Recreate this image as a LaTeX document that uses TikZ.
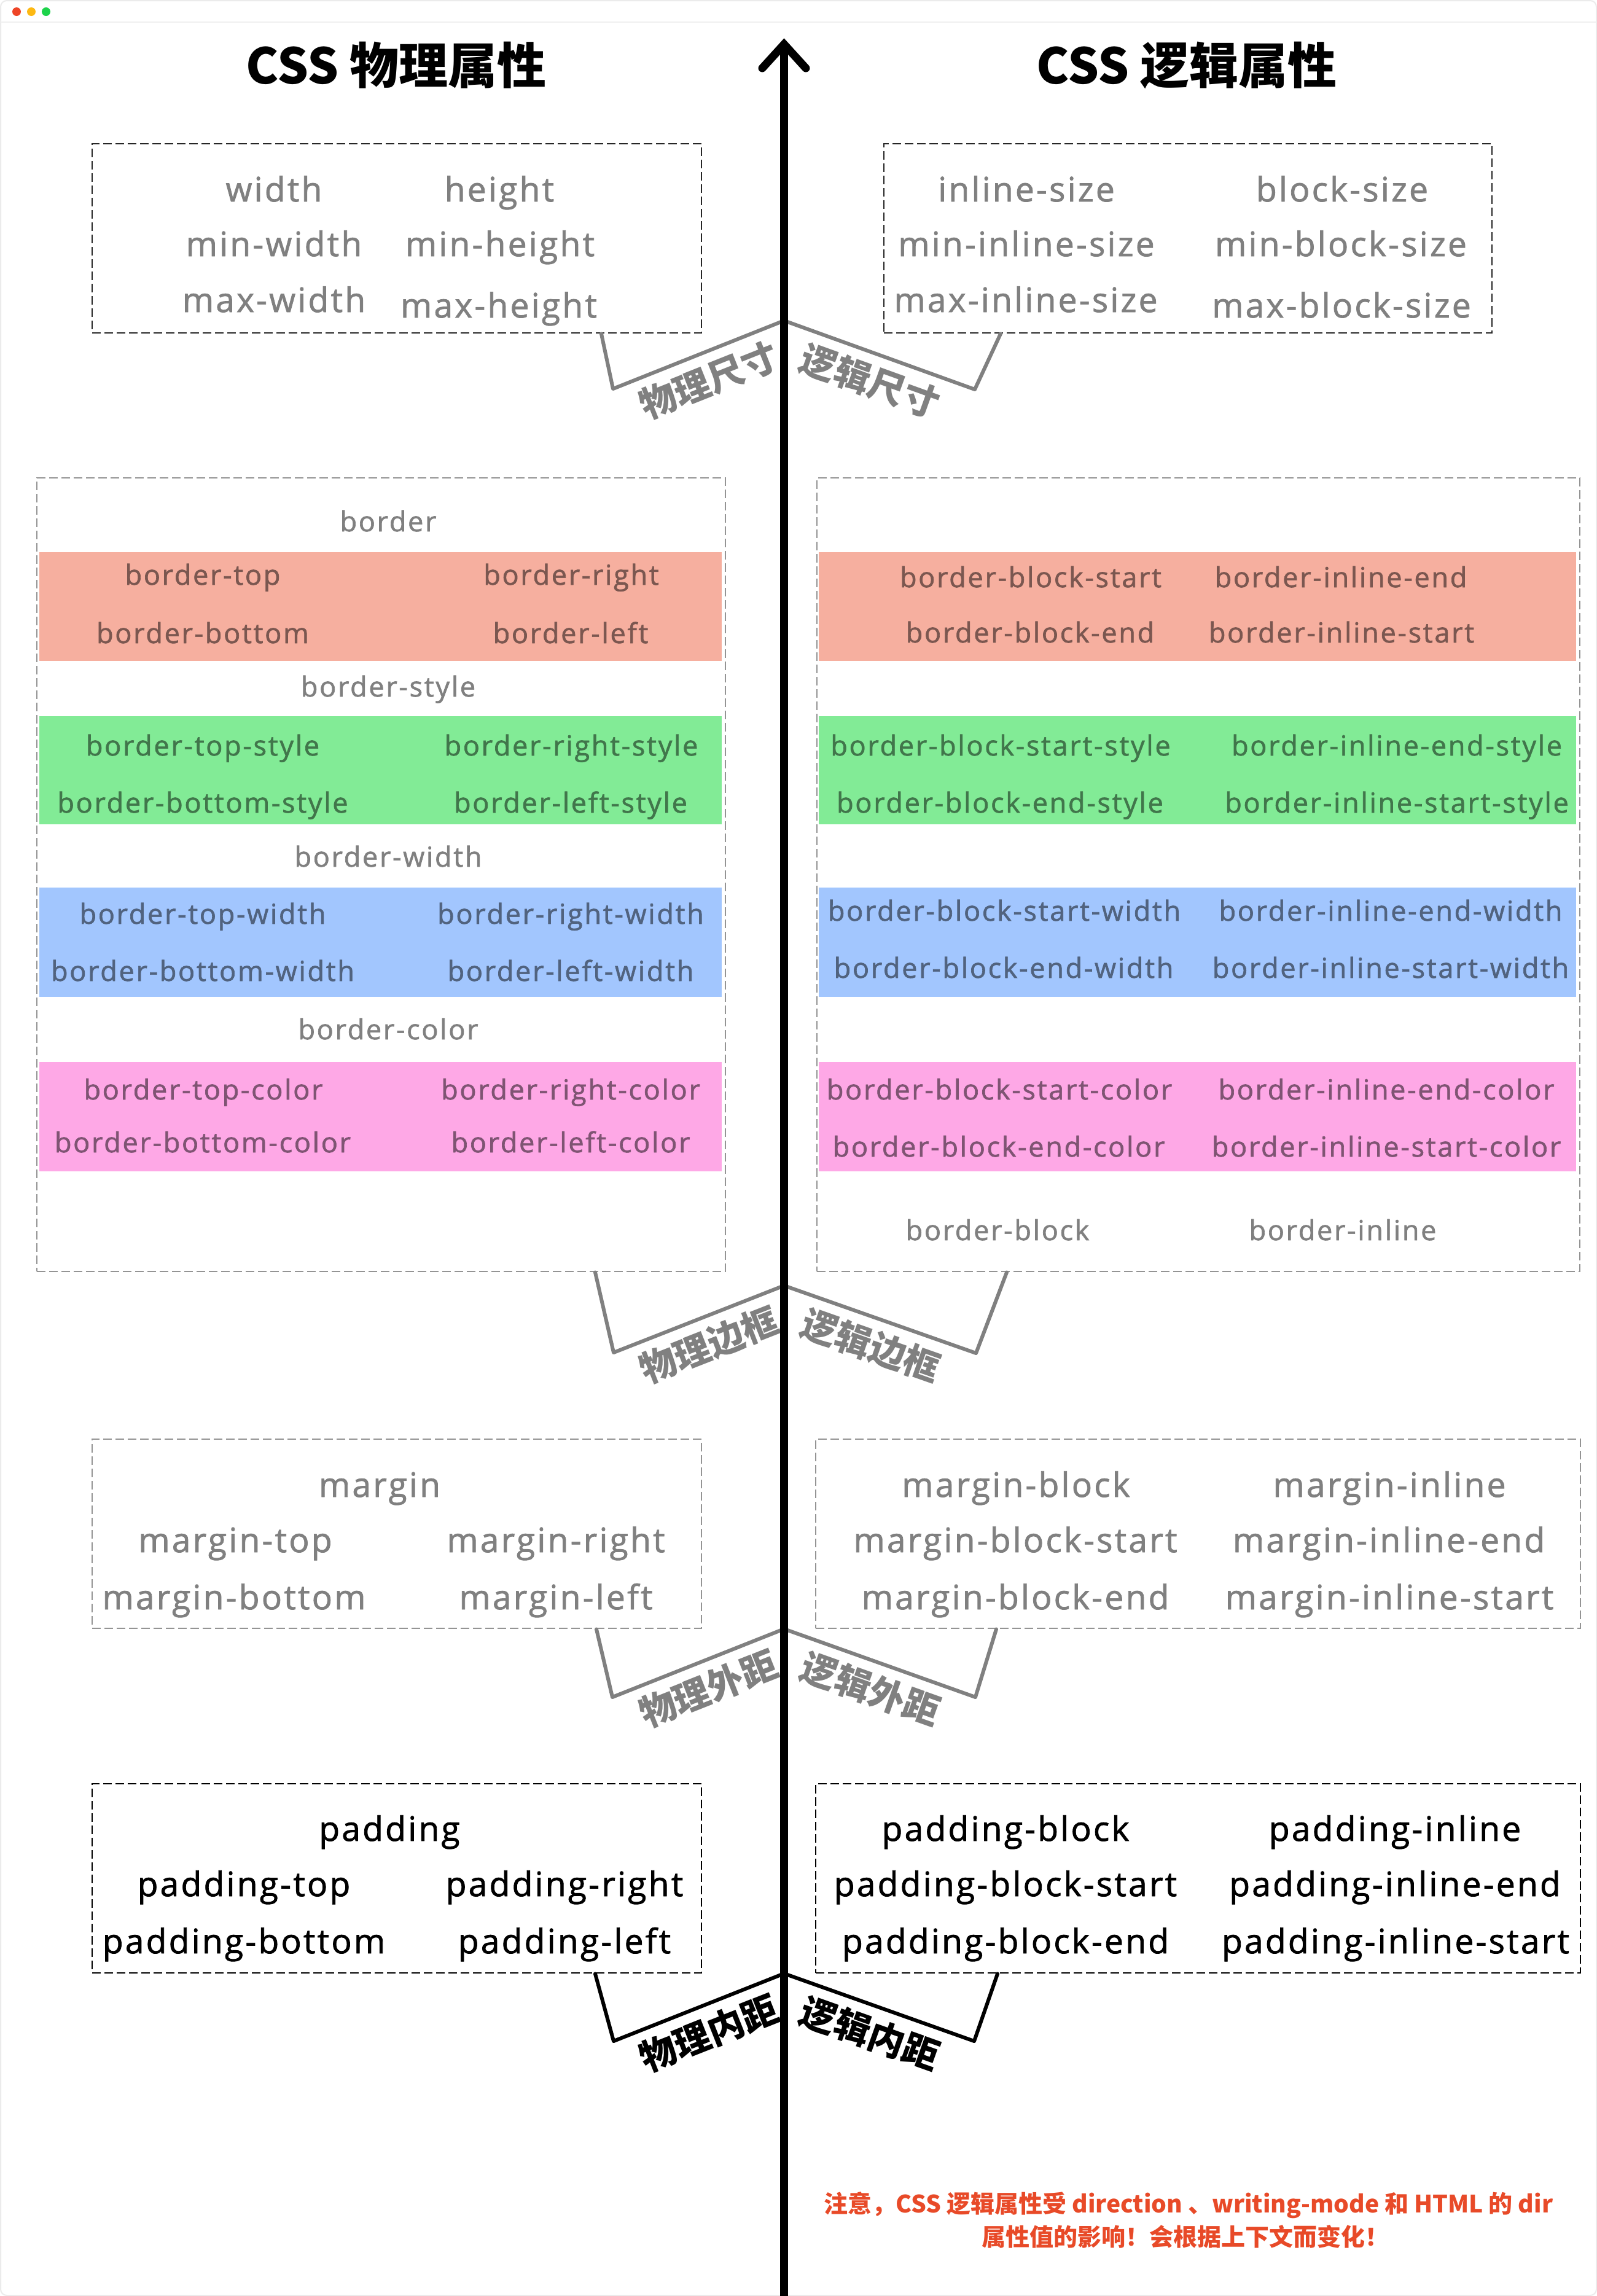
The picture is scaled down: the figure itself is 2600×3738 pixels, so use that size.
\documentclass[tikz,border=0pt]{standalone}
\usepackage{fontspec}
\newfontfamily\cjk{Noto Sans CJK SC}
\newfontfamily\lat{Open Sans}[LetterSpace=6, FakeBold=1.5]
\usetikzlibrary{calc}
\definecolor{salmon}{HTML}{F6AF9F}
\definecolor{mint}{HTML}{82EB96}
\definecolor{sky}{HTML}{A2C6FE}
\definecolor{rose}{HTML}{FEA8E6}
\definecolor{notered}{HTML}{E84A28}
\definecolor{dotred}{HTML}{EE4527}
\definecolor{dotyellow}{HTML}{FDB913}
\definecolor{dotgreen}{HTML}{1DD34B}
\colorlet{midgray}{black!50}
\colorlet{salmontext}{black!50!salmon}
\colorlet{minttext}{black!50!mint}
\colorlet{skytext}{black!50!sky}
\colorlet{rosetext}{black!50!rose}
\tikzset{
  dboxbase/.style={draw, line width=1.2pt, dash pattern=on 7pt off 3pt, inner sep=0pt, anchor=north west},
  sizebox/.style={dboxbase, draw=black!85},
  graybox/.style={dboxbase, draw=black!42},
  padbox/.style={dboxbase, draw=black},
  band/.style={inner sep=0pt, anchor=north west, draw=none},
  bigtxt/.style={inner sep=0pt, anchor=base, font=\lat\fontsize{27.5}{33}\selectfont, text=midgray},
  smalltxt/.style={inner sep=0pt, anchor=base, font=\lat\fontsize{22.5}{27}\selectfont, text=midgray},
  conn/.style={draw=midgray, line width=3pt, line join=round, line cap=round},
  lbl/.style={midway, sloped, below=7pt, inner sep=0pt, font=\cjk\bfseries\fontsize{29.5}{35}\selectfont, text=midgray},
  axisline/.style={draw=black, line width=6.5pt},
  titletxt/.style={inner sep=0pt, anchor=base, font=\cjk\bfseries\fontsize{40}{48}\selectfont},
  notetxt/.style={inner sep=0pt, anchor=base, text=notered, font=\cjk\bfseries\fontsize{19.5}{24}\selectfont},
}
\begin{document}
\begin{tikzpicture}[x=0.5pt,y=-0.5pt]
\useasboundingbox (0,0) rectangle (2600,3738);
% window frame
\fill[white] (0,0) rectangle (2600,3738);
\draw[draw=black!8, line width=1pt, rounded corners=5pt] (1,1) rectangle (2599,3737);
\draw[draw=black!6, line width=1pt] (1,36) -- (2599,36);
\fill[dotred] (27,19) circle[radius=7];
\fill[dotyellow] (51,19) circle[radius=7];
\fill[dotgreen] (75,19) circle[radius=7];

% titles
\node[titletxt] (titleL) at (645,136) {CSS 物理属性};
\node[titletxt] (titleR) at (1932,136) {CSS 逻辑属性};

% ---------- size boxes
\node[sizebox, minimum width=496pt, minimum height=154pt] (sL) at (149,233) {};
\node[sizebox, minimum width=495pt, minimum height=154pt] (sR) at (1438,233) {};
\node[bigtxt] (s1) at (446,328) {width};
\node[bigtxt] (s2) at (813,328) {height};
\node[bigtxt] (s3) at (446,417) {min-width};
\node[bigtxt] (s4) at (814,417) {min-height};
\node[bigtxt] (s5) at (446,508) {max-width};
\node[bigtxt] (s6) at (812,517) {max-height};
\node[bigtxt] (s7) at (1671,328) {inline-size};
\node[bigtxt] (s8) at (2185,328) {block-size};
\node[bigtxt] (s9) at (1671,417) {min-inline-size};
\node[bigtxt] (s10) at (2183,417) {min-block-size};
\node[bigtxt] (s11) at (1670,508) {max-inline-size};
\node[bigtxt] (s12) at (2184,517) {max-block-size};

% ---------- border boxes
\node[band, fill=salmon, minimum width=555.5pt, minimum height=88.5pt] (bandL1) at (64,899) {};
\node[band, fill=mint, minimum width=555.5pt, minimum height=88pt] (bandL2) at (64,1166) {};
\node[band, fill=sky, minimum width=555.5pt, minimum height=89pt] (bandL3) at (64,1445) {};
\node[band, fill=rose, minimum width=555.5pt, minimum height=89pt] (bandL4) at (64,1729) {};
\node[band, fill=salmon, minimum width=616.5pt, minimum height=88.5pt] (bandR1) at (1333,899) {};
\node[band, fill=mint, minimum width=616.5pt, minimum height=88pt] (bandR2) at (1333,1166) {};
\node[band, fill=sky, minimum width=616.5pt, minimum height=89pt] (bandR3) at (1333,1445) {};
\node[band, fill=rose, minimum width=616.5pt, minimum height=89pt] (bandR4) at (1333,1729) {};
\node[graybox, minimum width=560.5pt, minimum height=646pt] (bL) at (59,777) {};
\node[graybox, minimum width=621pt, minimum height=646pt] (bR) at (1329,777) {};

\node[smalltxt] (b1) at (632,865) {border};
\node[smalltxt, text=salmontext] (b2) at (330,952) {border-top};
\node[smalltxt, text=salmontext] (b3) at (930,952) {border-right};
\node[smalltxt, text=salmontext] (b4) at (330,1047) {border-bottom};
\node[smalltxt, text=salmontext] (b5) at (929,1047) {border-left};
\node[smalltxt] (b6) at (632,1134) {border-style};
\node[smalltxt, text=minttext] (b7) at (330,1230) {border-top-style};
\node[smalltxt, text=minttext] (b8) at (930,1230) {border-right-style};
\node[smalltxt, text=minttext] (b9) at (330,1323) {border-bottom-style};
\node[smalltxt, text=minttext] (b10) at (929,1323) {border-left-style};
\node[smalltxt] (b11) at (632,1411) {border-width};
\node[smalltxt, text=skytext] (b12) at (330,1504) {border-top-width};
\node[smalltxt, text=skytext] (b13) at (929,1504) {border-right-width};
\node[smalltxt, text=skytext] (b14) at (330,1597) {border-bottom-width};
\node[smalltxt, text=skytext] (b15) at (929,1597) {border-left-width};
\node[smalltxt] (b16) at (632,1692) {border-color};
\node[smalltxt, text=rosetext] (b17) at (331,1790) {border-top-color};
\node[smalltxt, text=rosetext] (b18) at (929,1790) {border-right-color};
\node[smalltxt, text=rosetext] (b19) at (330,1876) {border-bottom-color};
\node[smalltxt, text=rosetext] (b20) at (929,1876) {border-left-color};

\node[smalltxt, text=salmontext] (r1) at (1678,956) {border-block-start};
\node[smalltxt, text=salmontext] (r2) at (2183,956) {border-inline-end};
\node[smalltxt, text=salmontext] (r3) at (1677,1046) {border-block-end};
\node[smalltxt, text=salmontext] (r4) at (2184,1046) {border-inline-start};
\node[smalltxt, text=minttext] (r5) at (1629,1230) {border-block-start-style};
\node[smalltxt, text=minttext] (r6) at (2274,1230) {border-inline-end-style};
\node[smalltxt, text=minttext] (r7) at (1628,1323) {border-block-end-style};
\node[smalltxt, text=minttext] (r8) at (2274,1323) {border-inline-start-style};
\node[smalltxt, text=skytext] (r9) at (1635,1499) {border-block-start-width};
\node[smalltxt, text=skytext] (r10) at (2264,1499) {border-inline-end-width};
\node[smalltxt, text=skytext] (r11) at (1634,1592) {border-block-end-width};
\node[smalltxt, text=skytext] (r12) at (2264,1592) {border-inline-start-width};
\node[smalltxt, text=rosetext] (r13) at (1627,1790) {border-block-start-color};
\node[smalltxt, text=rosetext] (r14) at (2257,1790) {border-inline-end-color};
\node[smalltxt, text=rosetext] (r15) at (1626,1883) {border-block-end-color};
\node[smalltxt, text=rosetext] (r16) at (2257,1883) {border-inline-start-color};
\node[smalltxt] (r17) at (1624,2019) {border-block};
\node[smalltxt] (r18) at (2186,2019) {border-inline};

% ---------- margin boxes
\node[graybox, minimum width=496pt, minimum height=154pt] (mL) at (149,2342) {};
\node[graybox, minimum width=622.5pt, minimum height=154pt] (mR) at (1327,2342) {};
\node[bigtxt] (m1) at (618,2437) {margin};
\node[bigtxt] (m2) at (383,2527) {margin-top};
\node[bigtxt] (m3) at (905,2527) {margin-right};
\node[bigtxt] (m4) at (381,2620) {margin-bottom};
\node[bigtxt] (m5) at (905,2620) {margin-left};
\node[bigtxt] (m6) at (1654,2437) {margin-block};
\node[bigtxt] (m7) at (2262,2437) {margin-inline};
\node[bigtxt] (m8) at (1653,2527) {margin-block-start};
\node[bigtxt] (m9) at (2261,2527) {margin-inline-end};
\node[bigtxt] (m10) at (1653,2620) {margin-block-end};
\node[bigtxt] (m11) at (2262,2620) {margin-inline-start};

% ---------- padding boxes
\node[padbox, minimum width=496pt, minimum height=154pt] (pL) at (149,2903) {};
\node[padbox, minimum width=622.5pt, minimum height=154pt] (pR) at (1327,2903) {};
\node[bigtxt, text=black] (p1) at (634,2997) {padding};
\node[bigtxt, text=black] (p2) at (397,3087) {padding-top};
\node[bigtxt, text=black] (p3) at (919,3087) {padding-right};
\node[bigtxt, text=black] (p4) at (397,3180) {padding-bottom};
\node[bigtxt, text=black] (p5) at (919,3180) {padding-left};
\node[bigtxt, text=black] (p6) at (1637,2997) {padding-block};
\node[bigtxt, text=black] (p7) at (2271,2997) {padding-inline};
\node[bigtxt, text=black] (p8) at (1637,3087) {padding-block-start};
\node[bigtxt, text=black] (p9) at (2271,3087) {padding-inline-end};
\node[bigtxt, text=black] (p10) at (1637,3180) {padding-block-end};
\node[bigtxt, text=black] (p11) at (2272,3180) {padding-inline-start};

% ---------- connectors
\coordinate (sAx) at (1276.5,522);
\coordinate (sLc) at (998,633);
\coordinate (sRc) at (1587,634);
\draw[conn] ($(sL.south west)+(830,0)$) -- (sLc) -- node[lbl]{物理尺寸} (sAx);
\draw[conn] (sAx) -- node[lbl]{逻辑尺寸} (sRc) -- ($(sR.south west)+(191,0)$);

\coordinate (bAx) at (1276.5,2093);
\coordinate (bLc) at (999,2202);
\coordinate (bRc) at (1589,2203);
\draw[conn] ($(bL.south west)+(910,0)$) -- (bLc) -- node[lbl]{物理边框} (bAx);
\draw[conn] (bAx) -- node[lbl]{逻辑边框} (bRc) -- ($(bR.south west)+(310,0)$);

\coordinate (mAx) at (1276.5,2652);
\coordinate (mLc) at (997,2763);
\coordinate (mRc) at (1588,2763);
\draw[conn] ($(mL.south west)+(822,0)$) -- (mLc) -- node[lbl]{物理外距} (mAx);
\draw[conn] (mAx) -- node[lbl]{逻辑外距} (mRc) -- ($(mR.south west)+(295,0)$);

\coordinate (pAx) at (1276.5,3213);
\coordinate (pLc) at (999,3323);
\coordinate (pRc) at (1586,3323);
\draw[conn, draw=black] ($(pL.south west)+(820,0)$) -- (pLc) -- node[lbl, text=black]{物理内距} (pAx);
\draw[conn, draw=black] (pAx) -- node[lbl, text=black]{逻辑内距} (pRc) -- ($(pR.south west)+(297,0)$);

% ---------- axis
\coordinate (axbot) at (1276.5,3745);
\coordinate (axtop) at (1276.5,72);
\coordinate (barbL) at (1241,111);
\coordinate (barbR) at (1312,111);
\draw[axisline] (axbot) -- (axtop);
\draw[axisline, line join=miter, line cap=round] (barbL) -- (axtop) -- (barbR);

% ---------- note
\node[notetxt] (note1) at (1935,3602) {注意，CSS 逻辑属性受 direction 、writing-mode 和 HTML 的 dir};
\node[notetxt] (note2) at (1930,3656) {属性值的影响！会根据上下文而变化！};
\end{tikzpicture}
\end{document}
